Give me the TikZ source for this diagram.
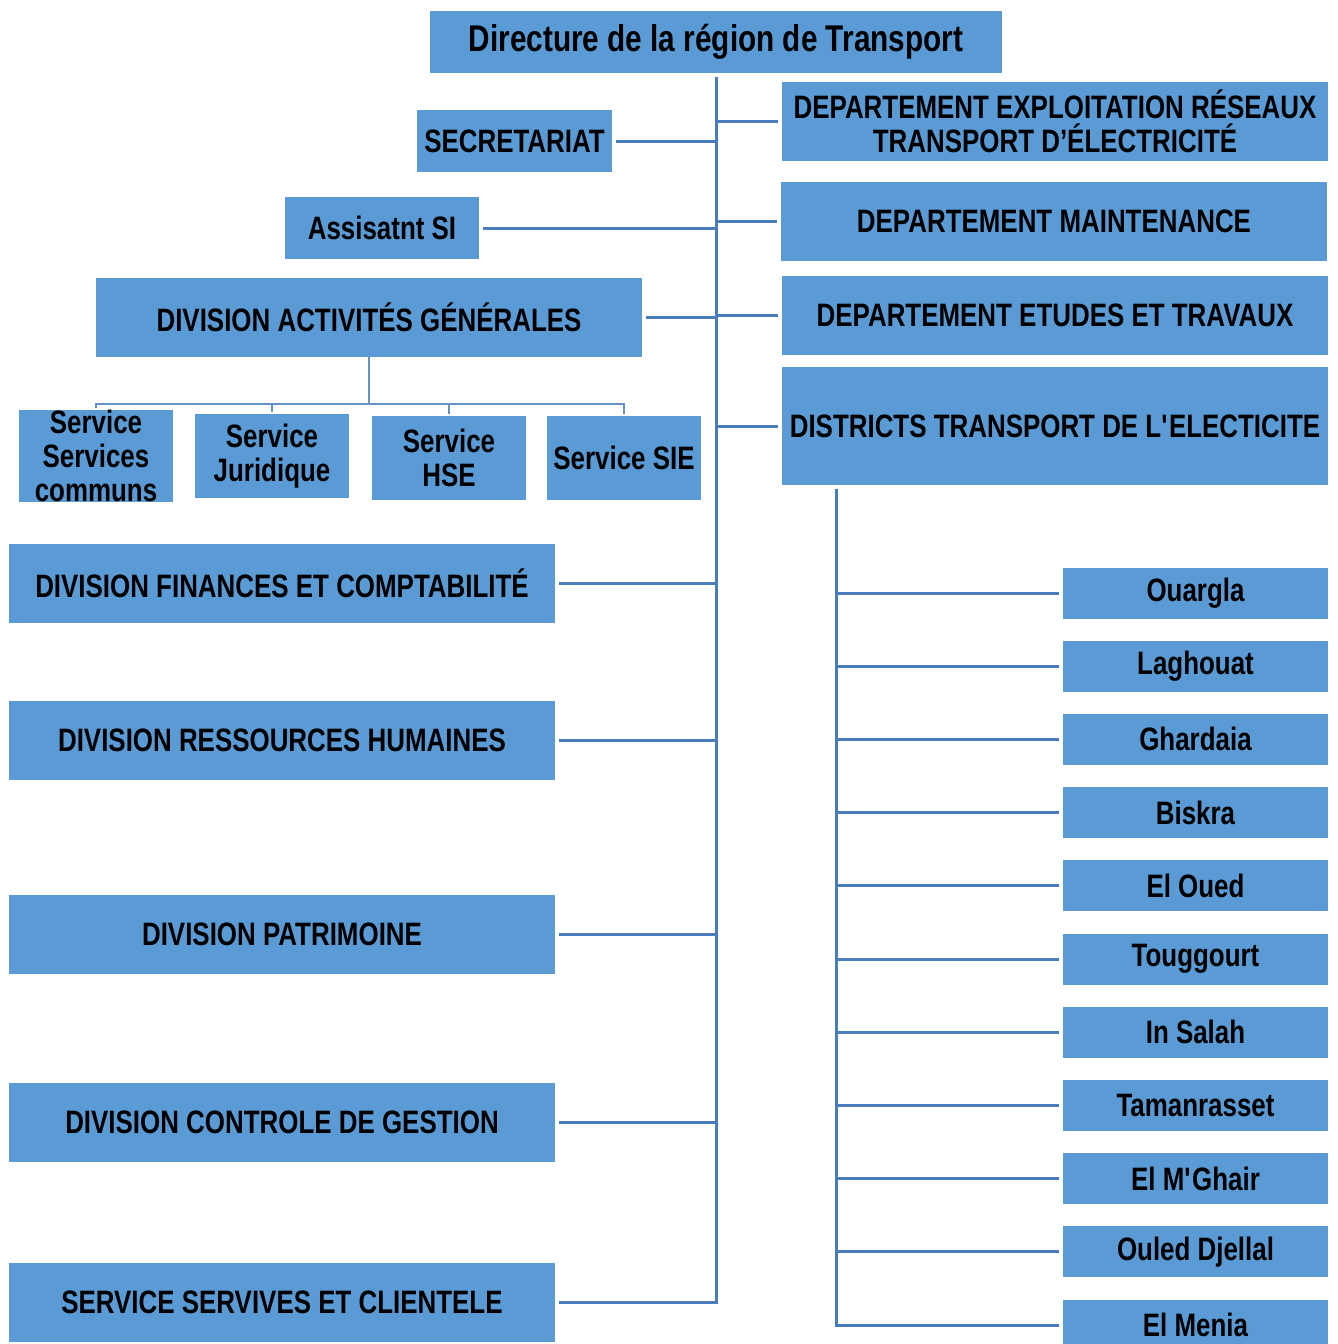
\documentclass[tikz,border=0pt]{standalone}
\usepackage{fontspec}
\setmainfont{Liberation Sans}[FakeStretch=0.80]
\usetikzlibrary{positioning}
\definecolor{boxblue}{HTML}{5B9BD5}
\definecolor{linkblue}{HTML}{4A7EBB}
\tikzset{
  org/.style={fill=boxblue,inner sep=0pt,outer sep=0pt,align=center,font=\fontsize{16.2}{17}\selectfont\bfseries},
  wide/.style={org,minimum width=273pt,minimum height=39.5pt},
  small/.style={org,minimum width=97.5pt,minimum height=31pt},
  service/.style={org,minimum width=77pt,minimum height=42pt},
  district/.style={org,minimum width=132.5pt,minimum height=25.5pt},
  link/.style={draw=linkblue,line width=1.5pt},
  sublink/.style={draw=linkblue!85,line width=1pt},
}
\begin{document}
\begin{tikzpicture}[x=0.5pt,y=-0.5pt,node distance=11.1pt]
\useasboundingbox (0,0) rectangle (1338,1344);

% direction and staff
\node[org,minimum width=286pt,minimum height=31pt,font=\fontsize{18.6}{20}\selectfont\bfseries] (Direction) at (716,42) {Directure de la région de Transport};
\node[small]                  (Secretariat) at (514.5,141) {SECRETARIAT};
\node[small,minimum width=97pt] (Assistant) at (382,228)   {Assisatnt SI};
\node[wide]                   (DivAG)       at (369,317.5) {DIVISION ACTIVITÉS GÉNÉRALES};

% services under the DAG
\node[service] (SrvCommuns)   at (96,456)  {Service\\Services\\communs};
\node[service] (SrvJuridique) at (272,456) {Service\\Juridique};
\node[service] (SrvHSE)       at (449,458) {Service\\HSE};
\node[service] (SrvSIE)       at (624,458) {Service SIE};

% divisions on the left
\node[wide] (DivFinances)   at (282,583.5)  {DIVISION FINANCES ET COMPTABILITÉ};
\node[wide] (DivRH)         at (282,740.5)  {DIVISION RESSOURCES HUMAINES};
\node[wide] (DivPatrimoine) at (282,934.5)  {DIVISION PATRIMOINE};
\node[wide] (DivControle)   at (282,1122.5) {DIVISION CONTROLE DE GESTION};
\node[wide] (SrvClientele)  at (282,1302.5) {SERVICE SERVIVES ET CLIENTELE};

% departments on the right
\node[wide] (DepExploitation) at (1055,121)   {DEPARTEMENT EXPLOITATION RÉSEAUX\\TRANSPORT D’ÉLECTRICITÉ};
\node[wide] (DepMaintenance)  at (1054,221.5) {DEPARTEMENT MAINTENANCE};
\node[wide] (DepEtudes)       at (1055,315)   {DEPARTEMENT ETUDES ET TRAVAUX};
\node[wide,minimum height=59pt] (Districts) at (1055,426) {DISTRICTS TRANSPORT DE L\textquotesingle ELECTICITE};

% districts
\node[district]                    (Ouargla)     at (1195.5,593) {Ouargla};
\node[district,below=of Ouargla]   (Laghouat)    {Laghouat};
\node[district,below=of Laghouat]  (Ghardaia)    {Ghardaia};
\node[district,below=of Ghardaia]  (Biskra)      {Biskra};
\node[district,below=of Biskra]    (ElOued)      {El Oued};
\node[district,below=of ElOued]    (Touggourt)   {Touggourt};
\node[district,below=of Touggourt] (InSalah)     {In Salah};
\node[district,below=of InSalah]   (Tamanrasset) {Tamanrasset};
\node[district,below=of Tamanrasset] (ElMGhair)  {El M\textquotesingle Ghair};
\node[district,below=of ElMGhair]  (OuledDjellal) {Ouled Djellal};
\node[district,below=of OuledDjellal] (ElMenia)  {El Menia};

% main trunk
\draw[link,shorten <=2pt] (Direction.south) -- (Direction.south |- SrvClientele.east) -- ([xshift=2pt]SrvClientele.east);
\path[link,shorten <=2pt]
      (Secretariat.east)   edge (Secretariat.east -| Direction.south)
      (Assistant.east)     edge (Assistant.east -| Direction.south)
      (DivAG.east)         edge (DivAG.east -| Direction.south)
      (DivFinances.east)   edge (DivFinances.east -| Direction.south)
      (DivRH.east)         edge (DivRH.east -| Direction.south)
      (DivPatrimoine.east) edge (DivPatrimoine.east -| Direction.south)
      (DivControle.east)   edge (DivControle.east -| Direction.south);
\path[link,shorten >=2pt]
      (DepExploitation.west -| Direction.south) edge (DepExploitation.west)
      (DepMaintenance.west -| Direction.south)  edge (DepMaintenance.west)
      (DepEtudes.west -| Direction.south)       edge (DepEtudes.west)
      (Districts.west -| Direction.south)       edge (Districts.west);

% bracket of the services
\coordinate (bracket) at (0,404);
\draw[sublink] (DivAG.south) -- (DivAG.south |- bracket);
\draw[sublink] ([yshift=1pt]SrvCommuns.north) -- (SrvCommuns.north |- bracket) -- (SrvSIE.north |- bracket) -- ([yshift=1pt]SrvSIE.north);
\draw[sublink] (SrvJuridique.north |- bracket) -- ([yshift=1pt]SrvJuridique.north);
\draw[sublink] (SrvHSE.north |- bracket) -- ([yshift=1pt]SrvHSE.north);

% districts trunk
\coordinate (DistrictTop) at (836,489);
\draw[link] (DistrictTop) -- (DistrictTop |- ElMenia.west) -- ([xshift=-2pt]ElMenia.west);
\path[link,shorten >=2pt]
      (Ouargla.west -| DistrictTop)      edge (Ouargla.west)
      (Laghouat.west -| DistrictTop)     edge (Laghouat.west)
      (Ghardaia.west -| DistrictTop)     edge (Ghardaia.west)
      (Biskra.west -| DistrictTop)       edge (Biskra.west)
      (ElOued.west -| DistrictTop)       edge (ElOued.west)
      (Touggourt.west -| DistrictTop)    edge (Touggourt.west)
      (InSalah.west -| DistrictTop)      edge (InSalah.west)
      (Tamanrasset.west -| DistrictTop)  edge (Tamanrasset.west)
      (ElMGhair.west -| DistrictTop)     edge (ElMGhair.west)
      (OuledDjellal.west -| DistrictTop) edge (OuledDjellal.west);
\end{tikzpicture}
\end{document}
